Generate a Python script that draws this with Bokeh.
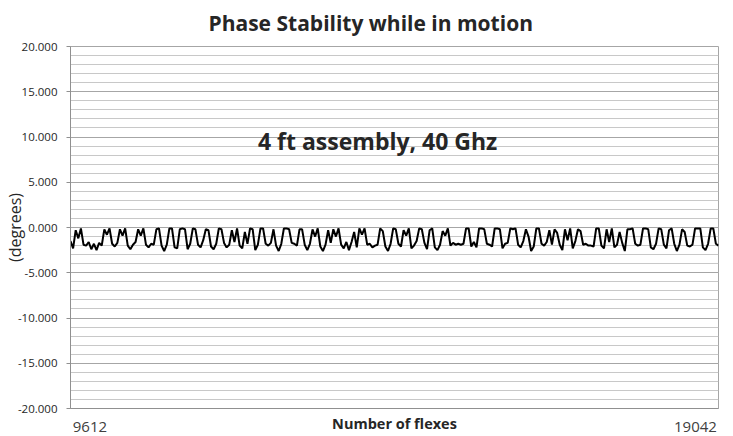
import numpy as np
from bokeh.plotting import figure
from bokeh.models import Range1d, SingleIntervalTicker, FixedTicker, NumeralTickFormatter, Label
from bokeh.embed import file_html
from bokeh.resources import INLINE

# ---- data ----
flex_start = 9612
flex_end = 19042
x_tick_labels = ["9612", "19042"]

phase_seg1 = [-1.5, -2.3, -0.3, -1.2, -0.1, -1.9, -2.0, -1.6, -2.4, -1.8, -2.5, -1.7, -2.0, -0.2, -0.8, -0.1, -1.8, -2.1, -1.7, -0.2,
              -0.9, -0.1, -2.0, -2.4, -1.9, -1.6, -0.2, -0.9, -0.1, -1.9, -2.2, -1.8, -1.9, -0.2, -0.1, -2.0, -2.6, -1.9, -0.1, -0.1,
              -2.2, -2.3, -0.2, -0.1, -0.2, -2.4, -1.8, -0.1, -0.2, -1.9]
phase_seg2 = [-2.2, -1.4, -0.2, -0.3, -2.1, -2.4, -1.8, -0.1, -0.2, -1.7, -2.2, -1.9, -0.3, -1.6, -0.1, -2.0, -2.3, -0.5, -1.8, -0.1,
              -0.2, -2.5, -1.9, -0.1, -0.1, -1.8, -2.0, -1.7, -0.2, -2.0, -2.6, -1.8, -0.1, -0.1, -0.2, -1.7, -1.8, -2.0, -0.2, -0.2,
              -1.9, -2.5, -1.8, -0.2, -1.0, -0.1, -2.1, -2.6, -1.9, -0.3]
phase_seg3 = [-1.7, -0.2, -1.0, -0.1, -1.9, -2.3, -1.6, -2.5, -1.6, -0.5, -2.2, -0.1, -0.8, -0.1, -1.9, -1.8, -2.2, -2.0, -1.9, -0.1,
              -0.4, -2.1, -2.6, -1.8, -0.1, -0.2, -1.8, -2.1, -0.3, -0.9, -0.1, -2.3, -2.0, -1.5, -0.1, -0.2, -1.7, -2.4, -0.3, -0.1,
              -2.2, -2.5, -1.9, -0.4, -0.9, -0.1, -2.0, -1.7, -1.9, -1.8]
phase_seg4 = [-1.9, -1.8, -0.1, -0.1, -2.1, -1.6, -2.2, -0.1, -0.1, -0.2, -1.8, -1.9, -2.1, -0.1, -0.1, -0.2, -2.3, -1.8, -1.7, -0.1,
              -0.2, -0.1, -1.9, -2.2, -1.5, -0.2, -1.0, -2.6, -2.1, -0.1, -0.1, -1.8, -2.0, -1.6, -0.3, -1.9, -0.2, -0.6, -1.9, -2.5,
              -0.2, -1.4, -0.1, -2.3, -1.5, -0.2, -0.4, -1.9, -1.8, -2.0]
phase_seg5 = [-2.0, -2.1, -0.1, -0.1, -2.0, -2.3, -0.2, -1.6, -0.1, -2.2, -1.9, -0.5, -1.7, -2.6, -0.2, -0.2, -0.1, -1.8, -2.0, -1.9,
              -0.1, -0.1, -0.2, -2.2, -2.4, -1.8, -0.1, -0.2, -1.9, -2.3, -0.3, -0.1, -1.8, -2.6, -1.9, -0.2, -0.5, -2.0, -2.1, -1.9,
              -0.1, -0.1, -0.1, -2.2, -2.5, -1.8, -0.1, -0.1, -1.8, -2.0]

phase = phase_seg1 + phase_seg2 + phase_seg3 + phase_seg4 + phase_seg5
flexes = np.linspace(flex_start, flex_end, len(phase))

FONT = "Open Sans"

p = figure(width=725, height=436, output_backend="svg", toolbar_location=None,
           x_range=Range1d(flex_start, flex_end), y_range=Range1d(-20, 20),
           min_border_left=70, min_border_right=7, min_border_top=46, min_border_bottom=28)

p.background_fill_color = "white"
p.border_fill_color = "white"
p.outline_line_color = "#a6a6a6"

# title
p.title.text = "Phase Stability while in motion"
p.title.align = "left"
p.title.vertical_align = "top"
p.title.offset = 138
p.title.standoff = 16
p.title.text_font = FONT
p.title.text_font_size = "21px"
p.title.text_font_style = "bold"
p.title.text_color = "#262626"

# y axis
p.yaxis.ticker = SingleIntervalTicker(interval=5, num_minor_ticks=5)
p.yaxis.formatter = NumeralTickFormatter(format="0.000")
p.yaxis.axis_label = "(degrees)"
p.yaxis.axis_label_text_font = FONT
p.yaxis.axis_label_text_font_size = "16px"
p.yaxis.axis_label_text_font_style = "normal"
p.yaxis.axis_label_text_color = "#262626"
p.yaxis.axis_label_standoff = -11
p.yaxis.major_label_text_font = FONT
p.yaxis.major_label_text_font_size = "11.5px"
p.yaxis.major_label_text_color = "#262626"
p.yaxis.major_label_standoff = 9
p.yaxis.axis_line_color = "#909090"
p.yaxis.major_tick_line_color = "#909090"
p.yaxis.major_tick_out = 4
p.yaxis.major_tick_in = 0
p.yaxis.minor_tick_line_color = None

# x axis
span = flex_end - flex_start
t0 = flex_start + 0.030 * span
t1 = flex_end - 0.0355 * span
p.xaxis.ticker = FixedTicker(ticks=[t0, t1])
p.xaxis.major_label_overrides = {t0: x_tick_labels[0], t1: x_tick_labels[1]}
p.xaxis.major_label_text_font = FONT
p.xaxis.major_label_text_font_size = "15px"
p.xaxis.major_label_text_color = "#404040"
p.xaxis.major_label_standoff = 7
p.xaxis.major_tick_line_color = None
p.xaxis.minor_tick_line_color = None
p.xaxis.axis_line_color = "#909090"
p.xaxis.axis_label = "Number of flexes"
p.xaxis.axis_label_text_font = FONT
p.xaxis.axis_label_text_font_size = "14.5px"
p.xaxis.axis_label_text_font_style = "bold"
p.xaxis.axis_label_text_color = "#262626"
p.xaxis.axis_label_standoff = -21

# grid
p.xgrid.grid_line_color = None
p.ygrid.grid_line_color = "#a6a6a6"
p.ygrid.minor_grid_line_color = "#c8c8c8"

p.line(flexes, phase, line_color="black", line_width=2)

p.add_layout(Label(x=flex_start + 0.474 * span, y=9.6, text="4 ft assembly, 40 Ghz",
                   text_align="center", text_baseline="middle", text_font=FONT,
                   text_font_size="23px", text_font_style="bold", text_color="#262626"))

open("out.html", "w").write(file_html(p, INLINE))
